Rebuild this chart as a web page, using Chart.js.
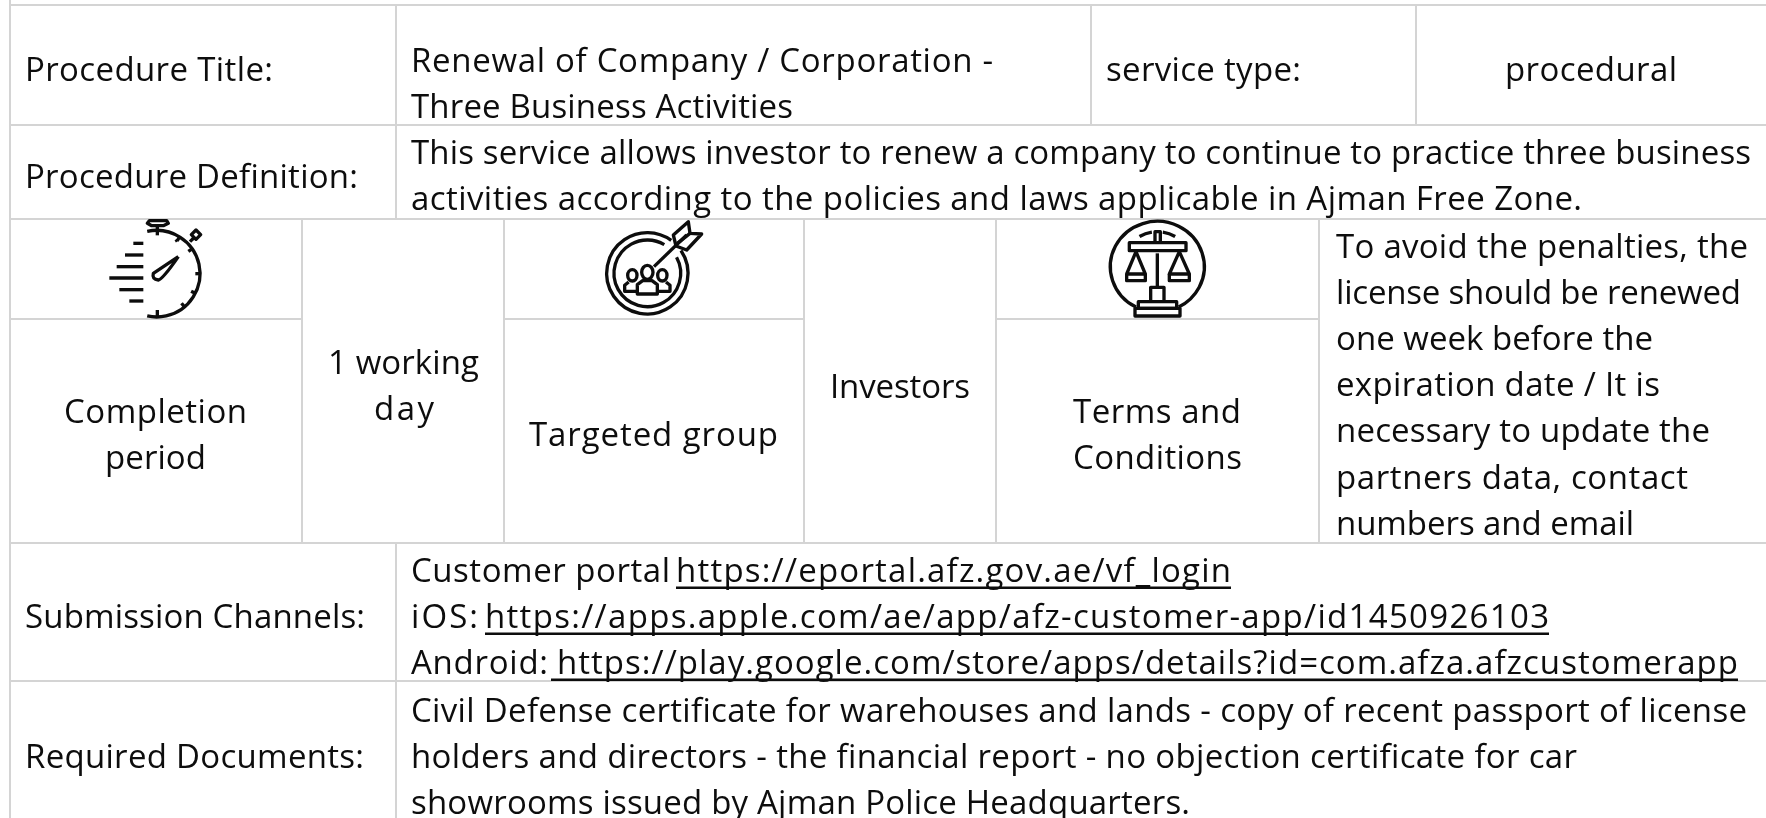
<!DOCTYPE html>
<html>
<head>
<meta charset="utf-8">
<style>
  html, body { margin: 0; padding: 0; background: #fff; overflow: hidden; }
  canvas { display: block; }
</style>
<script src="https://cdn.jsdelivr.net/npm/chart.js@4"></script>
</head>
<body>
<canvas id="procedureCard" width="1766" height="818"></canvas>
<script>
// The picture is a table card: no measured series, only its wording and its ruling

const titleLines = ['Procedure Title:', 'Renewal of Company / Corporation -', 'Three Business Activities', 'service type:', 'procedural'];
const definitionLines = ['Procedure Definition:',
  'This service allows investor to renew a company to continue to practice three business',
  'activities according to the policies and laws applicable in Ajman Free Zone.'];
const summaryLines = ['Completion', 'period', '1 working', 'day', 'Targeted group', 'Investors', 'Terms and', 'Conditions'];
const termsLines = ['To avoid the penalties, the', 'license should be renewed', 'one week before the',
  'expiration date / It is', 'necessary to update the', 'partners data, contact', 'numbers and email'];
const channelLines = ['Submission Channels:', 'Customer portal', 'iOS:', 'Android:'];
const channelLinks = ['https://eportal.afz.gov.ae/vf_login',
  'https://apps.apple.com/ae/app/afz-customer-app/id1450926103',
  'https://play.google.com/store/apps/details?id=com.afza.afzcustomerapp'];
const documentLines = ['Required Documents:',
  'Civil Defense certificate for warehouses and lands - copy of recent passport of license',
  'holders and directors - the financial report - no objection certificate for car',
  'showrooms issued by Ajman Police Headquarters.'];

// layout: [left, right, baseline] for each line above, same order
const titleBoxes = [[25, 273, 81], [411, 993, 72], [411, 793, 118], [1106, 1301, 81], [1505, 1677, 81]];
const definitionBoxes = [[25, 358, 188], [411, 1751, 164], [411, 1582, 210]];
const summaryBoxes = [[64, 247, 423], [105, 206, 469], [328, 479, 374], [374, 434, 420],
  [529, 778, 446], [830, 970, 398], [1073, 1241, 423], [1073, 1242, 469]];
const termsBoxes = [[1336, 1748, 258], [1336, 1741, 304], [1336, 1653, 350], [1336, 1660, 396],
  [1336, 1710, 442], [1336, 1688, 489], [1336, 1634, 535]];
const channelBoxes = [[25, 365, 628], [411, 670, 582], [411, 478, 628], [411, 548, 674]];
const linkBoxes = [[676, 1231, 582], [485, 1549, 628], [557, 1738, 674]];
const documentBoxes = [[25, 364, 768], [411, 1747, 722], [411, 1577, 768], [411, 1190, 814]];

const ruleColor = '#d4d4d4';
const inkColor = '#0d0d0d';
const textFont = '33px "Open Sans"';

// table rules: [from, to, at]
const horizontalRules = [[10, 1766, 5], [10, 1766, 125], [10, 1766, 219], [10, 302, 319], [504, 804, 319],
  [996, 1319, 319], [10, 1766, 543], [10, 1766, 681]];
const verticalRules = [[0, 818, 10], [5, 219, 396], [543, 818, 396], [5, 125, 1091], [5, 125, 1416],
  [219, 543, 302], [219, 543, 504], [219, 543, 804], [219, 543, 996], [219, 543, 1319]];

function rulePoints() {
  const pts = [];
  horizontalRules.forEach(function (r) { pts.push({ x: r[0], y: r[2] }, { x: r[1], y: r[2] }, { x: null, y: null }); });
  verticalRules.forEach(function (r) { pts.push({ x: r[2], y: r[0] }, { x: r[2], y: r[1] }, { x: null, y: null }); });
  return pts;
}

function drawLines(chart, lines, boxes, underline) {
  const ctx = chart.ctx;
  const sx = chart.scales.x;
  const sy = chart.scales.y;
  lines.forEach(function (text, i) {
    const left = sx.getPixelForValue(boxes[i][0]);
    const right = sx.getPixelForValue(boxes[i][1]);
    const base = sy.getPixelForValue(boxes[i][2]);
    ctx.letterSpacing = '0px';
    const gap = (right - left - ctx.measureText(text).width) / (text.length - 1);
    ctx.letterSpacing = gap.toFixed(3) + 'px';
    ctx.fillText(text, left, base);
    ctx.letterSpacing = '0px';
    if (underline) {
      ctx.fillRect(left - (i === 2 ? 6 : 0), base + 4.5, right - left + (i === 2 ? 6 : 0), 2.5);
    }
  });
}

// icon paths are in crop units of one third of a pixel
function path(ctx, pts, close) {
  ctx.beginPath();
  pts.forEach(function (p, i) { if (i) ctx.lineTo(p[0], p[1]); else ctx.moveTo(p[0], p[1]); });
  if (close) ctx.closePath();
  ctx.stroke();
}

function drawStopwatch(ctx) {
  ctx.beginPath();
  ctx.arc(200, 191, 130, -Math.PI * 0.57, Math.PI * 0.57);
  ctx.stroke();
  path(ctx, [[178, 32], [230, 32], [235, 40], [220, 47], [185, 47], [172, 40]], true);
  path(ctx, [[202, 47], [202, 76]]);
  [[130, 100, 160], [105, 135, 160], [80, 170, 160], [58, 204, 160], [88, 239, 160], [118, 273, 160]].forEach(function (d) {
    path(ctx, [[d[0], d[1]], [d[2], d[1]]]);
  });
  path(ctx, [[202, 300], [202, 322]]);
  [[-58], [-35], [0], [27], [50]].forEach(function (t) {
    const a = t[0] * Math.PI / 180;
    path(ctx, [[200 + 130 * Math.cos(a), 191 + 130 * Math.sin(a)], [200 + 116 * Math.cos(a), 191 + 116 * Math.sin(a)]]);
  });
  path(ctx, [[258, 88], [262, 95]]);
  path(ctx, [[300, 95], [311, 84]]);
  path(ctx, [[318, 60], [332, 74], [318, 88], [304, 74]], true);
  ctx.beginPath();
  ctx.moveTo(265, 140);
  ctx.lineTo(190, 190);
  ctx.quadraticCurveTo(185, 208, 205, 210);
  ctx.quadraticCurveTo(218, 208, 265, 140);
  ctx.stroke();
}

function drawTarget(ctx) {
  ctx.beginPath();
  ctx.arc(172, 190, 122, -Math.PI * 0.19, -Math.PI * 0.3, false);
  ctx.stroke();
  ctx.beginPath();
  ctx.arc(172, 190, 100, -Math.PI * 0.16, -Math.PI * 0.33, false);
  ctx.stroke();
  path(ctx, [[192, 170], [290, 75]]);
  path(ctx, [[250, 75], [295, 35], [300, 70], [335, 72], [290, 120], [258, 108]], true);
  path(ctx, [[262, 100], [300, 70]]);
  [[172, 187, 17, 21], [127, 196, 14, 17], [217, 196, 14, 17]].forEach(function (h) {
    ctx.beginPath();
    ctx.ellipse(h[0], h[1], h[2], h[3], 0, 0, Math.PI * 2);
    ctx.stroke();
  });
  path(ctx, [[142, 252], [142, 224], [158, 212], [186, 212], [202, 224], [202, 252]], true);
  path(ctx, [[142, 244], [104, 244], [104, 226], [116, 216]]);
  path(ctx, [[202, 244], [240, 244], [240, 226], [228, 216]]);
}

function drawScales(ctx) {
  ctx.beginPath();
  ctx.ellipse(172, 170, 141, 136, 0, Math.PI * 0.65, Math.PI * 0.35);
  ctx.stroke();
  path(ctx, [[165, 95], [165, 65], [181, 65], [181, 95]]);
  path(ctx, [[88, 98], [258, 98], [258, 122], [88, 122]], true);
  path(ctx, [[172, 130], [172, 230]]);
  path(ctx, [[152, 275], [152, 232], [192, 232], [192, 275]]);
  path(ctx, [[115, 275], [230, 275], [230, 295], [115, 295]], true);
  path(ctx, [[105, 295], [240, 295], [240, 318], [105, 318]], true);
  [[108, 80, 136], [238, 208, 268]].forEach(function (s) {
    path(ctx, [[s[0], 125], [s[1], 192], [s[2], 192]], true);
    path(ctx, [[s[1], 192], [s[1], 212], [s[2], 212], [s[2], 192]]);
  });
  ctx.beginPath();
  ctx.arc(172, 170, 105, -Math.PI * 0.67, -Math.PI * 0.55);
  ctx.stroke();
  ctx.beginPath();
  ctx.arc(172, 170, 105, -Math.PI * 0.45, -Math.PI * 0.33);
  ctx.stroke();
}

const iconSpots = [[drawStopwatch, 90, 210], [drawTarget, 590, 210], [drawScales, 1100, 210]];

const cardPlugin = {
  id: 'cardPlugin',
  afterDatasetsDraw: function (chart) {
    const ctx = chart.ctx;
    ctx.save();
    ctx.font = textFont;
    ctx.fillStyle = inkColor;
    ctx.textBaseline = 'alphabetic';
    drawLines(chart, titleLines, titleBoxes);
    drawLines(chart, definitionLines, definitionBoxes);
    drawLines(chart, summaryLines, summaryBoxes);
    drawLines(chart, termsLines, termsBoxes);
    drawLines(chart, channelLines, channelBoxes);
    drawLines(chart, channelLinks, linkBoxes, true);
    drawLines(chart, documentLines, documentBoxes);
    iconSpots.forEach(function (spot) {
      ctx.save();
      ctx.translate(chart.scales.x.getPixelForValue(spot[1]), chart.scales.y.getPixelForValue(spot[2]));
      ctx.scale(1 / 3, 1 / 3);
      ctx.strokeStyle = inkColor;
      ctx.lineWidth = 10;
      ctx.lineJoin = 'round';
      spot[0](ctx);
      ctx.restore();
    });
    ctx.restore();
  }
};

document.addEventListener('DOMContentLoaded', function () {
  new Chart(document.getElementById('procedureCard'), {
    type: 'scatter',
    data: {
      datasets: [{
        data: rulePoints(),
        showLine: true,
        spanGaps: false,
        borderColor: ruleColor,
        borderWidth: 2,
        pointRadius: 0,
        tension: 0
      }]
    },
    options: {
      responsive: false,
      animation: false,
      layout: { padding: 0 },
      plugins: { legend: { display: false }, tooltip: { enabled: false } },
      scales: {
        x: { type: 'linear', display: false, min: 0, max: 1766 },
        y: { type: 'linear', display: false, min: 0, max: 818, reverse: true }
      }
    },
    plugins: [cardPlugin]
  });
});
</script>
</body>
</html>
